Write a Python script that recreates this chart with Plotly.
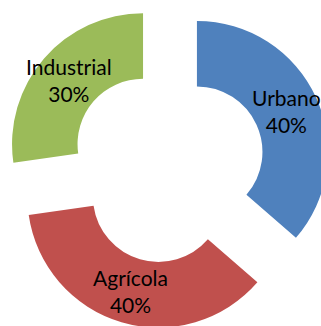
import math
import plotly.graph_objects as go

# Water use by sector
sectors = ["Urbano", "Agrícola", "Industrial"]
shares = [40, 40, 30]
colors = ["#4F81BD", "#C0504D", "#9BBB59"]

# Canvas and ring geometry (pixels)
W, H = 340, 335
cx, cy = 167.5, 165.4      # ring centre before the slices are pulled out
radius = 131.0
pull = 0.247
hole = 0.5
half = radius * (1 + pull)

dom_x = [(cx - half) / W, (cx + half) / W]
dom_y = [(H - (cy + half)) / H, (H - (cy - half)) / H]

fig = go.Figure(
    go.Pie(
        labels=sectors,
        values=shares,
        sort=False,
        direction="clockwise",
        rotation=0,
        hole=hole,
        pull=[pull] * len(sectors),
        marker=dict(colors=colors, line=dict(width=0)),
        textinfo="none",
        domain=dict(x=dom_x, y=dom_y),
        showlegend=False,
        hoverinfo="label+value",
    )
)

# Slice labels: horizontal text at the middle of each pulled ring segment
total = sum(shares)
start = 0.0
mid_r = radius * (1 + hole) / 2
for name, val in zip(sectors, shares):
    frac = val / total
    ang = math.radians((start + frac / 2) * 360)
    start += frac
    ux, uy = math.sin(ang), math.cos(ang)
    px = cx + (pull * radius + mid_r) * ux
    py = cy - (pull * radius + mid_r) * uy
    fig.add_annotation(
        x=px / W,
        y=(H - py) / H,
        xref="paper",
        yref="paper",
        text=f"{name}<br>{val}%",
        showarrow=False,
        xanchor="center",
        yanchor="middle",
        align="center",
        font=dict(family="Lato", size=21, color="#000000"),
    )

fig.update_layout(
    width=W,
    height=H,
    margin=dict(l=0, r=0, t=0, b=0),
    paper_bgcolor="white",
    plot_bgcolor="white",
)

fig.write_html("out.html")
